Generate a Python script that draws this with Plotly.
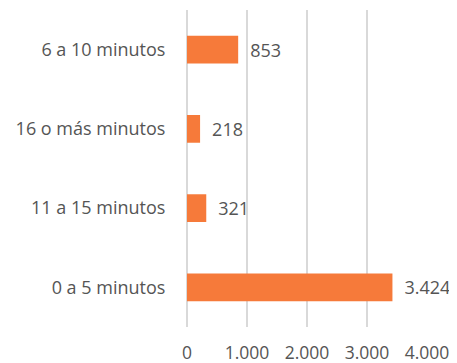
import plotly.graph_objects as go

categories = ["0 a 5 minutos", "11 a 15 minutos", "16 o más minutos", "6 a 10 minutos"]
values = [3424, 321, 218, 853]
value_labels = ["3.424", "321", "218", "853"]
tick_vals = [0, 1000, 2000, 3000, 4000]
tick_text = ["0", "1.000", "2.000", "3.000", "4.000"]

FONT = "Open Sans"
GRAY = "#555555"
SIZE = 18

fig = go.Figure(go.Bar(
    y=categories, x=values, orientation="h",
    marker=dict(color="#F67A3A", line=dict(width=0)),
    width=0.35,
    text=value_labels, texttemplate="\u2002%{text}",
    textposition="outside", cliponaxis=False,
    textfont=dict(family=FONT, size=SIZE, color=GRAY),
))

# page body adds an 8px margin, so figure is 8px smaller and shifted
fig.update_layout(
    width=449, height=355,
    margin=dict(l=179, r=30, t=2, b=36, pad=0),
    paper_bgcolor="white", plot_bgcolor="white",
    showlegend=False,
    font=dict(family=FONT, size=SIZE, color=GRAY),
    xaxis=dict(range=[0, 4000], tickvals=tick_vals, ticktext=tick_text,
               showgrid=True, gridcolor="#D9D9D9", gridwidth=1.5,
               zeroline=True, zerolinecolor="#D9D9D9", zerolinewidth=1.5,
               showline=False, automargin=False,
               ticks="outside", ticklen=10, tickcolor="rgba(0,0,0,0)",
               tickfont=dict(family=FONT, size=17.5, color=GRAY)),
    yaxis=dict(categoryorder="array", categoryarray=categories,
               showgrid=False, zeroline=False, showline=False,
               automargin=False,
               ticks="outside", ticklen=17, tickcolor="rgba(0,0,0,0)",
               tickfont=dict(family=FONT, size=SIZE, color=GRAY)),
)

fig.write_html("out.html")
